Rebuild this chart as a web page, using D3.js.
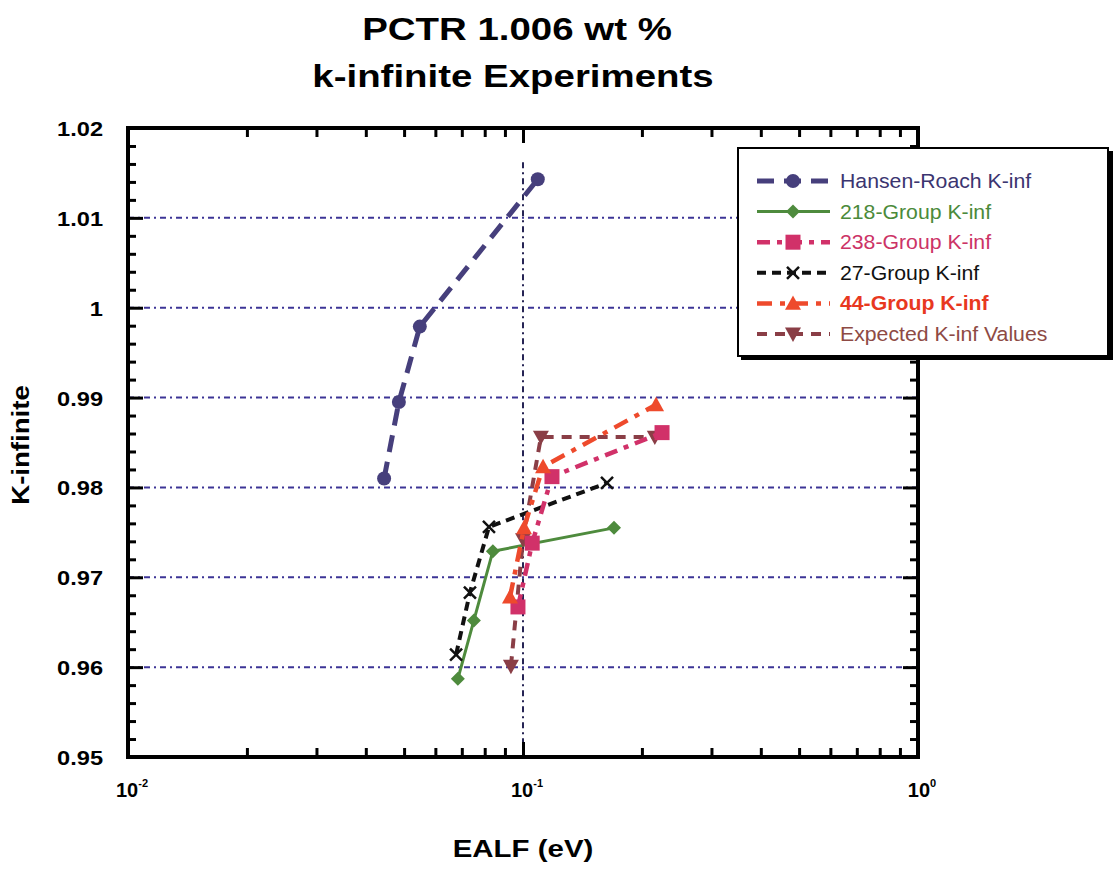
<!DOCTYPE html>
<html>
<head>
<meta charset="utf-8">
<script src="https://cdn.jsdelivr.net/npm/d3@7"></script>
<style>
  html, body { margin: 0; padding: 0; background: #fff; }
  svg { display: block; }
  text { font-family: "Liberation Sans", Arial, Helvetica, sans-serif; }
</style>
</head>
<body>
<svg id="chart" width="1114" height="870"></svg>
<script>
// ---------------- DATA ----------------
const titleLines = ["PCTR 1.006 wt %", "k-infinite Experiments"];
const xLabel = "EALF (eV)";
const yLabel = "K-infinite";
const xDomain = [0.01, 1];
const yDomain = [0.95, 1.02];
const xMajorTicks = [0.01, 0.1, 1];
const xTickExponents = ["-2", "-1", "0"];
const yMajorTicks = [0.95, 0.96, 0.97, 0.98, 0.99, 1.00, 1.01, 1.02];
const yTickLabels = ["0.95", "0.96", "0.97", "0.98", "0.99", "1", "1.01", "1.02"];
const yGridTicks = [0.96, 0.97, 0.98, 0.99, 1.00, 1.01];
const xGridTicks = [0.1];

const seriesNames = ["Hansen-Roach K-inf", "218-Group K-inf", "238-Group K-inf",
                     "27-Group K-inf", "44-Group K-inf", "Expected K-inf Values"];

const hansenX = [0.0445, 0.0485, 0.0548, 0.109];
const hansenY = [0.9810, 0.9895, 0.9979, 1.0143];

const g218X = [0.0684, 0.0751, 0.0839, 0.170];
const g218Y = [0.9587, 0.9652, 0.9729, 0.9755];

const g238X = [0.0971, 0.1055, 0.1184, 0.2249];
const g238Y = [0.9667, 0.9738, 0.9812, 0.9861];

const g27X = [0.0677, 0.0734, 0.0820, 0.1632];
const g27Y = [0.9614, 0.9683, 0.9756, 0.9805];

const g44X = [0.0927, 0.1006, 0.1124, 0.2172];
const g44Y = [0.9678, 0.9755, 0.9823, 0.9892];

const expX = [0.0932, 0.1000, 0.1110, 0.2156];
const expY = [0.9601, 0.9742, 0.9856, 0.9856];

// ---------------- STYLES ----------------
const styles = [
  { color: "#463f7c", text: "#3b3570", width: 5,   dash: "17,10",       marker: "circle",  size: 7,  bold: false },
  { color: "#4e8b3d", text: "#4b8a3a", width: 3,   dash: null,          marker: "diamond", size: 7,  bold: false },
  { color: "#d13169", text: "#cc3366", width: 4.5, dash: "13,7,5,7",    marker: "square",  size: 7.5,bold: false },
  { color: "#111111", text: "#111111", width: 4,   dash: "9,6",         marker: "x",       size: 6,  bold: false },
  { color: "#ee4a2c", text: "#e8381f", width: 4.5, dash: "15,8,5,8",    marker: "tri",     size: 8,  bold: true  },
  { color: "#8a3e46", text: "#8e4a44", width: 4,   dash: "10,8",        marker: "tridown", size: 8,  bold: false }
];
const seriesData = [
  [hansenX, hansenY], [g218X, g218Y], [g238X, g238Y],
  [g27X, g27Y], [g44X, g44Y], [expX, expY]
];

// ---------------- LAYOUT ----------------
const svg = d3.select("#chart");
const plotL = 128, plotR = 918, plotT = 128, plotB = 757;
const x = d3.scaleLog().domain(xDomain).range([plotL, plotR]);
const y = d3.scaleLinear().domain(yDomain).range([plotB, plotT]);

function addText(parent, tx, ty, str, o) {
  const g = parent.append("g")
    .attr("transform", `translate(${tx},${ty}) rotate(${o.rotate || 0}) scale(${o.sx || 1},1)`);
  const t = g.append("text")
    .attr("text-anchor", o.anchor || "start")
    .attr("font-size", o.size)
    .attr("font-weight", o.weight || "normal")
    .attr("fill", o.fill || "#000")
    .text(str);
  return t;
}

svg.append("rect").attr("width", 1114).attr("height", 870).attr("fill", "#fff");

// Title
addText(svg, 517, 40, titleLines[0], { size: 31, weight: "bold", anchor: "middle", sx: 1.24 });
addText(svg, 513, 87, titleLines[1], { size: 31, weight: "bold", anchor: "middle", sx: 1.24 });

// Grid lines
const gridColor = "#3d3596";
const grid = svg.append("g");
grid.selectAll("line.gy").data(yGridTicks).join("line")
  .attr("x1", plotL).attr("x2", plotR)
  .attr("y1", d => y(d)).attr("y2", d => y(d))
  .attr("stroke", gridColor).attr("stroke-width", 2)
  .attr("stroke-dasharray", "6,4,2,4");
grid.selectAll("line.gx").data(xGridTicks).join("line")
  .attr("x1", d => x(d)).attr("x2", d => x(d))
  .attr("y1", y(1.0162)).attr("y2", plotB)
  .attr("stroke", "#262454").attr("stroke-width", 2)
  .attr("stroke-dasharray", "6,4,2,4");

// Axes ticks (inward) using d3 axes
const xMinor = [];
for (let e = -2; e < 0; e++) for (let m = 2; m <= 9; m++) xMinor.push(m * Math.pow(10, e));
const yMinor = d3.range(0.952, 1.0195, 0.002).filter(v => Math.abs(Math.round(v * 100) - v * 100) > 1e-6);

function styleAxis(g) {
  g.select(".domain").remove();
  g.selectAll(".tick line").attr("stroke", "#000").attr("stroke-width", 3);
  g.selectAll(".tick text").remove();
}
svg.append("g").attr("transform", `translate(0,${plotB})`)
  .call(d3.axisBottom(x).tickValues(xMinor).tickSize(-9)).call(styleAxis);
svg.append("g").attr("transform", `translate(0,${plotB})`)
  .call(d3.axisBottom(x).tickValues(xMajorTicks).tickSize(-15)).call(styleAxis);
svg.append("g").attr("transform", `translate(0,${plotT})`)
  .call(d3.axisTop(x).tickValues(xMinor).tickSize(-9)).call(styleAxis);
svg.append("g").attr("transform", `translate(0,${plotT})`)
  .call(d3.axisTop(x).tickValues(xMajorTicks).tickSize(-15)).call(styleAxis);
svg.append("g").attr("transform", `translate(${plotL},0)`)
  .call(d3.axisLeft(y).tickValues(yMinor).tickSize(-8)).call(styleAxis);
svg.append("g").attr("transform", `translate(${plotL},0)`)
  .call(d3.axisLeft(y).tickValues(yMajorTicks).tickSize(-15)).call(styleAxis);
svg.append("g").attr("transform", `translate(${plotR},0)`)
  .call(d3.axisRight(y).tickValues(yMinor).tickSize(-8)).call(styleAxis);
svg.append("g").attr("transform", `translate(${plotR},0)`)
  .call(d3.axisRight(y).tickValues(yMajorTicks).tickSize(-15)).call(styleAxis);

// Frame
svg.append("rect").attr("x", plotL).attr("y", plotT)
  .attr("width", plotR - plotL).attr("height", plotB - plotT)
  .attr("fill", "none").attr("stroke", "#000").attr("stroke-width", 4);

// Tick labels
yMajorTicks.forEach((v, i) => {
  addText(svg, 103, y(v) + 8, yTickLabels[i], { size: 20, weight: "bold", anchor: "end", sx: 1.18 });
});
xMajorTicks.forEach((v, i) => {
  const t = addText(svg, x(v) + 4, 797, "", { size: 20, weight: "bold", anchor: "middle" });
  t.append("tspan").text("10");
  t.append("tspan").attr("font-size", 11).attr("dy", -10).text(xTickExponents[i]);
});

// Axis labels
addText(svg, 523, 857, xLabel, { size: 23, weight: "bold", anchor: "middle", sx: 1.28 });
addText(svg, 29, 445, yLabel, { size: 23, weight: "bold", anchor: "middle", rotate: -90, sx: 1.2 });

// Markers
function drawMarker(g, type, cx, cy, s, color) {
  if (type === "circle") {
    g.append("circle").attr("cx", cx).attr("cy", cy).attr("r", s).attr("fill", color);
  } else if (type === "diamond") {
    g.append("path").attr("d", `M${cx},${cy - s}L${cx + s},${cy}L${cx},${cy + s}L${cx - s},${cy}Z`).attr("fill", color);
  } else if (type === "square") {
    g.append("rect").attr("x", cx - s).attr("y", cy - s).attr("width", 2 * s).attr("height", 2 * s).attr("fill", color);
  } else if (type === "x") {
    g.append("path").attr("d", `M${cx - s},${cy - s}L${cx + s},${cy + s}M${cx - s},${cy + s}L${cx + s},${cy - s}`)
      .attr("stroke", color).attr("stroke-width", 2.5).attr("fill", "none");
  } else if (type === "tri") {
    g.append("path").attr("d", `M${cx},${cy - s}L${cx + s},${cy + s * 0.8}L${cx - s},${cy + s * 0.8}Z`).attr("fill", color);
  } else if (type === "tridown") {
    g.append("path").attr("d", `M${cx},${cy + s}L${cx + s},${cy - s * 0.8}L${cx - s},${cy - s * 0.8}Z`).attr("fill", color);
  }
}

// Series
const line = d3.line().x(d => x(d[0])).y(d => y(d[1]));
const drawOrder = [1, 3, 0, 5, 2, 4];
drawOrder.forEach(i => {
  const st = styles[i];
  const pts = seriesData[i][0].map((xv, k) => [xv, seriesData[i][1][k]]);
  const g = svg.append("g");
  g.append("path").datum(pts).attr("d", line)
    .attr("fill", "none").attr("stroke", st.color).attr("stroke-width", st.width)
    .attr("stroke-dasharray", st.dash).attr("stroke-linecap", "butt").attr("stroke-linejoin", "round");
  pts.forEach(p => drawMarker(g, st.marker, x(p[0]), y(p[1]), st.size, st.color));
});

// Legend
const lg = svg.append("g");
lg.append("rect").attr("x", 741).attr("y", 151).attr("width", 372).attr("height", 209).attr("fill", "#000");
lg.append("rect").attr("x", 738).attr("y", 148).attr("width", 370).attr("height", 208)
  .attr("fill", "#fff").attr("stroke", "#000").attr("stroke-width", 2);
const legendRowY = d3.range(seriesNames.length).map(i => 181 + i * 30.6);
seriesNames.forEach((name, i) => {
  const st = styles[i];
  const ly = legendRowY[i];
  lg.append("line").attr("x1", 757).attr("x2", 830).attr("y1", ly).attr("y2", ly)
    .attr("stroke", st.color).attr("stroke-width", st.width)
    .attr("stroke-dasharray", st.dash);
  drawMarker(lg, st.marker, 793, ly, st.size, st.color);
  addText(lg, 840, ly + 7, name, { size: 19.5, weight: st.bold ? "bold" : "normal", fill: st.text, sx: 1.09 });
});
</script>
</body>
</html>
